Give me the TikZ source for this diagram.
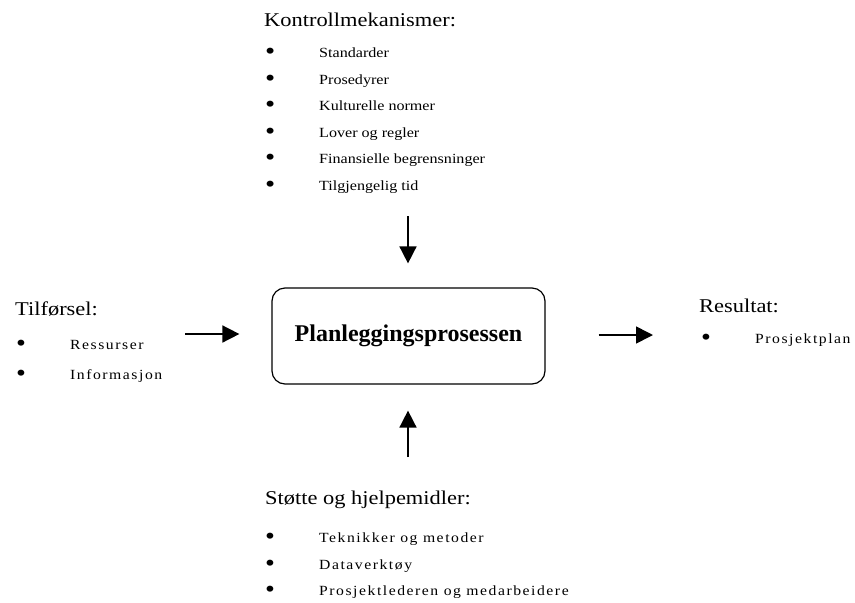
\documentclass[tikz,border=0pt]{standalone}
\usepackage{fontspec}
\usepackage{graphicx}
\setmainfont{Liberation Serif}[FakeStretch=1.15]
\newfontfamily\boxfont{Liberation Serif}[FakeStretch=1.0]
\newfontfamily\spacedfont{Liberation Serif}[FakeStretch=1.12, LetterSpace=11]
\usepackage{tikz}
\usetikzlibrary{positioning,arrows.meta}

\newcommand{\bitem}[1]{\makebox[54pt][l]{\raisebox{-2.4pt}[0pt][0pt]{\scalebox{1.8}{\textbullet}}}#1}

\begin{document}
\begin{tikzpicture}[x=1pt, y=-1pt,
    every node/.style={inner sep=0pt, anchor=base west},
    head/.style={font=\fontsize{19.5}{22}\selectfont},
    item/.style={font=\fontsize{14}{16}\selectfont},
    spaced/.style={font=\fontsize{14}{16}\selectfont\spacedfont},
    flow/.style={-{Triangle[length=17pt, width=17pt]}, line width=1.6pt}]
        \useasboundingbox (0,0) rectangle (855,603);

        % the process in the middle
        \node[draw, line width=1.2pt, rounded corners=13pt, minimum width=273pt, minimum height=96pt, anchor=center,
            font=\fontsize{24}{26}\selectfont\boxfont\bfseries] (proc) at (408.5,336) {Planleggingsprosessen};

        % controls on top
        \node[head] (ctrl) at (264,26) {Kontrollmekanismer:};
        \node[item] (std) at (265,57) {\bitem{Standarder}};
        \node[item] (pros) at (265,84) {\bitem{Prosedyrer}};
        \node[item] (kult) at (265,110) {\bitem{Kulturelle normer}};
        \node[item] (lov) at (265,137) {\bitem{Lover og regler}};
        \node[item] (fin) at (265,163) {\bitem{Finansielle begrensninger}};
        \node[item] (tid) at (265,190) {\bitem{Tilgjengelig tid}};

        % input on the left
        \node[head] (input) at (15,315) {Tilførsel:};
        \node[spaced] (ress) at (16,349) {\bitem{Ressurser}};
        \node[spaced] (info) at (16,379) {\bitem{Informasjon}};

        % output on the right
        \node[head] (output) at (699,312) {Resultat:};
        \node[spaced] (plan) at (701,343) {\bitem{Prosjektplan}};

        % support below
        \node[head] (supp) at (265,504) {Støtte og hjelpemidler:};
        \node[spaced] (tekn) at (265,542) {\bitem{Teknikker og metoder}};
        \node[spaced] (data) at (265,569) {\bitem{Dataverktøy}};
        \node[spaced] (lead) at (265,595.5) {\bitem{Prosjektlederen og medarbeidere}};

        \coordinate (ctrlend) at (408,216);
        \coordinate (inend) at (185,334);
        \coordinate (outend) at (653,335);
        \coordinate (suppend) at (408,457);
        \draw[flow, shorten >=24pt] (ctrlend) -- (ctrlend |- proc.north);
        \draw[flow, shorten >=32pt] (inend) -- (inend -| proc.west);
        \draw[flow, shorten <=53pt] (outend -| proc.east) -- (outend);
        \draw[flow, shorten >=26pt] (suppend) -- (suppend |- proc.south);
    \end{tikzpicture}
\end{document}
